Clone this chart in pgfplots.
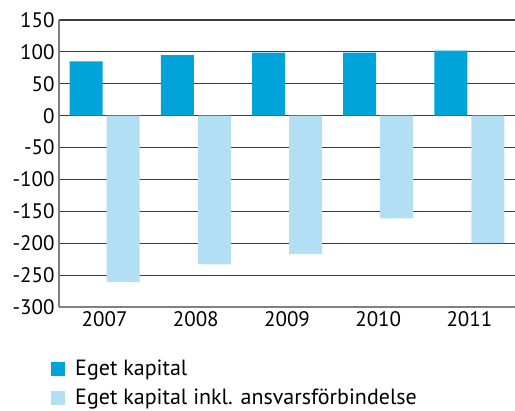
\documentclass[border=0pt]{standalone}
\usepackage{pgfplots}
\pgfplotsset{compat=1.18}
\usepackage{fontspec}
\setmainfont{PT Sans}
\definecolor{darkb}{RGB}{0,163,218}
\definecolor{lightb}{RGB}{179,223,245}
\definecolor{gridc}{RGB}{60,60,60}
\begin{document}
\begin{tikzpicture}
\begin{axis}[
  name=ax,
  scale only axis,
  width=456pt, height=287pt,
  xmin=-0.5, xmax=4.5, ymin=-300, ymax=150,
  ybar=4pt, bar width=33pt,
  xtick={0,1,2,3,4},
  xticklabels={2007,2008,2009,2010,2011},
  ytick={-300,-250,...,150},
  major tick length=0pt,
  ymajorgrids,
  grid style={gridc, line width=1.2pt},
  axis lines=left,
  axis line style={-, line width=1.4pt, gray},
  /pgf/number format/assume math mode=true,
  tick label style={font=\fontsize{21}{25}\selectfont},
  yticklabel style={xshift=-1pt},
  xticklabel style={yshift=-1pt},
  legend style={at={(axis description cs:-0.0175,-0.178)}, anchor=north west,
    draw=none, fill=none, inner sep=0pt,
    font=\fontsize{22}{26}\selectfont, row sep=8pt,
    /tikz/every odd column/.style={column sep=8pt}},
  legend cell align=left,
  legend image code/.code={\fill[#1] (0pt,-7pt) rectangle (14pt,7pt);},
]
\addplot[fill=darkb, draw=none] coordinates {(0,85) (1,95) (2,99) (3,99) (4,102)};
\addplot[fill=lightb, draw=none] coordinates {(0,-261) (1,-233) (2,-217) (3,-161) (4,-200)};
\legend{Eget kapital, Eget kapital inkl. ansvarsförbindelse}
\end{axis}
\pgfresetboundingbox
\path ([xshift=-59pt,yshift=-103pt]ax.south west) rectangle ([yshift=20pt]ax.north east);
\end{tikzpicture}
\end{document}
